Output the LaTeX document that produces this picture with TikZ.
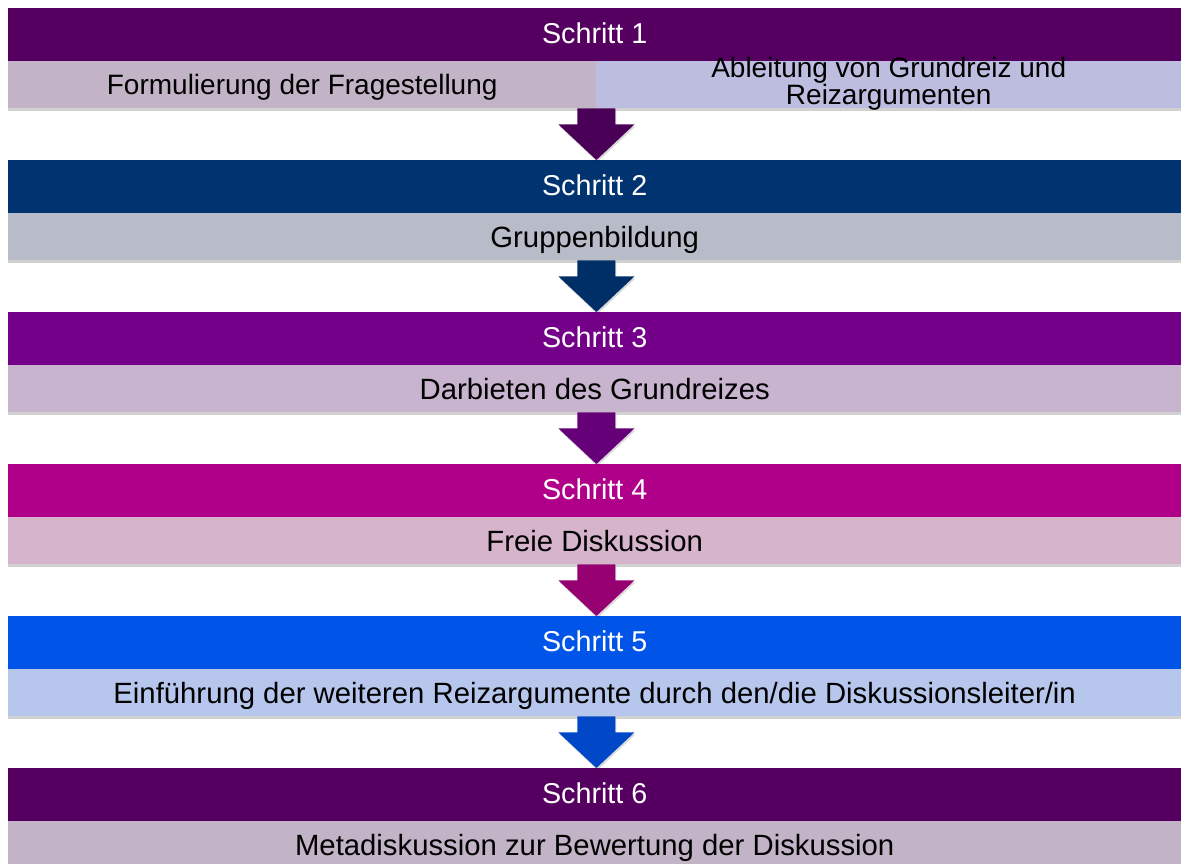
\documentclass[tikz,border=0pt]{standalone}
\usepackage{fontspec}
\setmainfont{Liberation Sans}
\usetikzlibrary{calc,shadows}
\definecolor{hA}{RGB}{85,0,96}
\definecolor{sAl}{RGB}{194,180,198}
\definecolor{sAr}{RGB}{189,189,224}
\definecolor{aA}{RGB}{74,0,86}
\definecolor{hB}{RGB}{0,51,112}
\definecolor{sB}{RGB}{183,188,200}
\definecolor{aB}{RGB}{0,46,102}
\definecolor{hC}{RGB}{116,0,138}
\definecolor{sC}{RGB}{200,180,206}
\definecolor{aC}{RGB}{101,0,120}
\definecolor{hD}{RGB}{176,0,138}
\definecolor{sD}{RGB}{214,180,204}
\definecolor{aD}{RGB}{150,0,112}
\definecolor{hE}{RGB}{0,85,232}
\definecolor{sE}{RGB}{182,198,236}
\definecolor{aE}{RGB}{0,72,200}
\tikzset{
  hdr/.style={anchor=north west, minimum width=1173pt, minimum height=53pt, inner sep=0pt,
    text height=35pt, text depth=18pt,
    text=white, font=\fontsize{28.7}{32}\selectfont},
  subbox/.style={anchor=north west, minimum height=47pt, inner sep=0pt, text=black,
    text height=34pt, text depth=13pt,
    font=\fontsize{29.3}{32}\selectfont, align=center,
    drop shadow={shadow xshift=0pt, shadow yshift=-3pt, opacity=0.18, fill=black}},
  subsmall/.style={font=\fontsize{28}{25}\selectfont},
  arrowshape/.style={drop shadow={shadow xshift=1pt, shadow yshift=-2pt, opacity=0.15, fill=black}}
}
\newcommand{\stepArrow}[3]{%
  \path[fill=#3, arrowshape]
    ($(#1)+(-19,0)$) -- ($(#1)+(19,0)$) -- ($(#1)+(19,16)$) -- ($(#1)+(38,16)$)
    -- (#2) -- ($(#1)+(-38,16)$) -- ($(#1)+(-19,16)$) -- cycle;}
\begin{document}
\begin{tikzpicture}[x=1pt,y=-1pt]
\useasboundingbox[fill=white] (0,0) rectangle (1181,863);
% row 1
\node[hdr, fill=hA] (h1) at (8,8) {Schritt 1};
\node[subbox, subsmall, fill=sAl, minimum width=588pt, text height=33pt, text depth=14pt] (s1l) at (8,61) {Formulierung der Fragestellung};
\node[subbox, subsmall, fill=sAr, minimum width=585pt, text height=43pt, text depth=4pt] (s1r) at (596,61) {Ableitung von Grundreiz und\\Reizargumenten};
% row 2
\node[hdr, fill=hB] (h2) at (8,160) {Schritt 2};
\node[subbox, fill=sB, minimum width=1173pt] (s2) at (8,213) {Gruppenbildung};
% row 3
\node[hdr, fill=hC] (h3) at (8,312) {Schritt 3};
\node[subbox, fill=sC, minimum width=1173pt] (s3) at (8,365) {Darbieten des Grundreizes};
% row 4
\node[hdr, fill=hD] (h4) at (8,464) {Schritt 4};
\node[subbox, fill=sD, minimum width=1173pt] (s4) at (8,517) {Freie Diskussion};
% row 5
\node[hdr, fill=hE] (h5) at (8,616) {Schritt 5};
\node[subbox, fill=sE, minimum width=1173pt] (s5) at (8,669) {Einführung der weiteren Reizargumente durch den/die Diskussionsleiter/in};
% row 6
\node[hdr, fill=hA] (h6) at (8,768) {Schritt 6};
\node[subbox, fill=sAl, minimum width=1173pt] (s6) at (8,821) {Metadiskussion zur Bewertung der Diskussion};
% arrows
\coordinate (a1t) at (s1l.south east);
\coordinate (a1b) at (s1l.south east |- h2.north);
\stepArrow{a1t}{a1b}{aA}
\coordinate (a2t) at (a1t |- s2.south);
\coordinate (a2b) at (a1t |- h3.north);
\stepArrow{a2t}{a2b}{aB}
\coordinate (a3t) at (a1t |- s3.south);
\coordinate (a3b) at (a1t |- h4.north);
\stepArrow{a3t}{a3b}{aC}
\coordinate (a4t) at (a1t |- s4.south);
\coordinate (a4b) at (a1t |- h5.north);
\stepArrow{a4t}{a4b}{aD}
\coordinate (a5t) at (a1t |- s5.south);
\coordinate (a5b) at (a1t |- h6.north);
\stepArrow{a5t}{a5b}{aE}
\end{tikzpicture}
\end{document}
